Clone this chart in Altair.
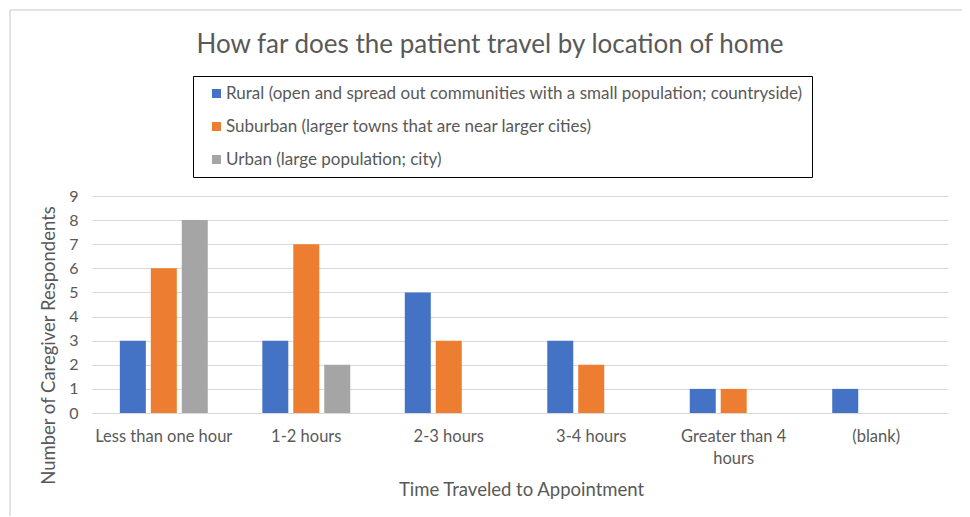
import altair as alt
import pandas as pd

categories = ["Less than one hour", "1-2 hours", "2-3 hours", "3-4 hours", "Greater than 4 hours", "(blank)"]
series = [
    "Rural (open and spread out communities with a small population; countryside)",
    "Suburban (larger towns that are near larger cities)",
    "Urban (large population; city)",
]
rural = [3, 3, 5, 3, 1, 1]
suburban = [6, 7, 3, 2, 1, None]
urban = [8, 2, None, None, None, None]
colors = ["#4472C4", "#ED7D31", "#A5A5A5"]
title_text = "How far does the patient travel by location of home"

rows = []
for s, vals in zip(series, [rural, suburban, urban]):
    for c, v in zip(categories, vals):
        if v is not None:
            rows.append({"cat": c, "series": s, "value": v})
df = pd.DataFrame(rows)

FONT = "Lato"
GRAY = "#595959"

bars = alt.Chart(df).mark_bar().encode(
    x=alt.X("cat:N", sort=categories,
            scale=alt.Scale(paddingInner=0.348, paddingOuter=0.178),
            axis=alt.Axis(title="Time Traveled to Appointment", labelAngle=0,
                          labelExpr="datum.value == 'Greater than 4 hours' ? ['Greater than 4', 'hours'] : datum.value",
                          ticks=False, domainColor="#d9d9d9", labelPadding=15,
                          labelFontSize=16.5, labelColor=GRAY, labelFont=FONT, labelLineHeight=22,
                          titleFontSize=18.5, titleColor=GRAY, titleFont=FONT, titleFontWeight="normal",
                          titleX=429, titleY=76, titleBaseline="middle")),
    xOffset=alt.XOffset("series:N", sort=series,
                        scale=alt.Scale(paddingInner=0.16, paddingOuter=0.08)),
    y=alt.Y("value:Q", scale=alt.Scale(domain=[0, 9]),
            axis=alt.Axis(title="Number of Caregiver Respondents", values=list(range(10)),
                          ticks=False, domain=False, gridColor="#d9d9d9", labelPadding=14,
                          labelFontSize=16, labelColor=GRAY, labelFont=FONT,
                          titleFontSize=18.5, titleColor=GRAY, titleFont=FONT, titleFontWeight="normal",
                          titleX=-44, titleY=149, titleBaseline="middle", titleAlign="center", titleAngle=-90)),
    color=alt.Color("series:N", sort=series,
                    scale=alt.Scale(domain=series, range=colors),
                    legend=alt.Legend(title=None, orient="none", legendX=101, legendY=-120,
                                      symbolType="square", symbolSize=81, symbolStrokeWidth=0,
                                      symbolOffset=6,
                                      labelFontSize=17, labelFont=FONT, labelColor=GRAY, labelLimit=800,
                                      labelOffset=1, rowPadding=15, padding=9,
                                      strokeColor="black", fillColor="white")),
)

title = alt.Chart().mark_text(font=FONT, fontSize=26, color=GRAY, align="center", baseline="middle").encode(
    x=alt.value(398), y=alt.value(-151), text=alt.value(title_text))

border_top = alt.Chart().mark_rule(color="#d9d9d9", strokeWidth=1.5).encode(
    x=alt.value(-82), x2=alt.value(900), y=alt.value(-186))
border_left = alt.Chart().mark_rule(color="#d9d9d9", strokeWidth=1.5).encode(
    x=alt.value(-82), y=alt.value(-186), y2=alt.value(330))

chart = alt.layer(border_top, border_left, title, bars).properties(
    width=856, height=217,
    padding={"left": 84, "top": 188, "right": 14, "bottom": 103},
    autosize=alt.AutoSizeParams(type="none"),
).configure_view(stroke=None)

chart.save("out.html", embed_options={"renderer": "svg", "actions": False})
